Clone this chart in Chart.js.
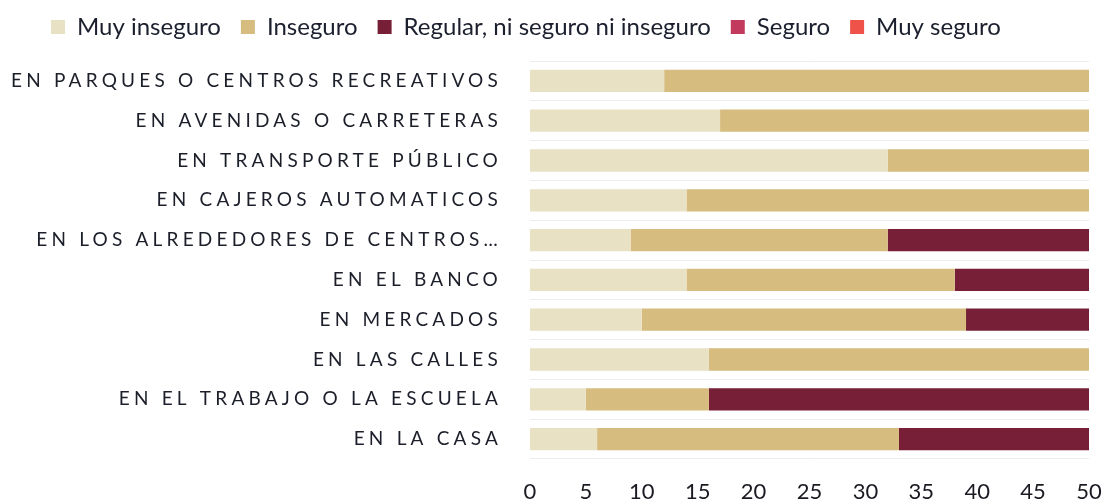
<!DOCTYPE html>
<html>
<head>
<meta charset="utf-8">
<script src="https://cdn.jsdelivr.net/npm/chart.js@4/dist/chart.umd.min.js"></script>
<style>
  html, body { margin: 0; padding: 0; background: #fff; }
  #wrap { width: 1106px; height: 503px; }
</style>
</head>
<body>
<div id="wrap"><canvas id="chart"></canvas></div>
<script>
// categories, top to bottom
const lugares = [
    "EN PARQUES O CENTROS RECREATIVOS",
    "EN AVENIDAS O CARRETERAS",
    "EN TRANSPORTE PÚBLICO",
    "EN CAJEROS AUTOMATICOS",
    "EN LOS ALREDEDORES DE CENTROS…",
    "EN EL BANCO",
    "EN MERCADOS",
    "EN LAS CALLES",
    "EN EL TRABAJO O LA ESCUELA",
    "EN LA CASA"
];

// series values
const muyInseguro = [12, 17, 32, 14, 9, 14, 10, 16, 5, 6];
const inseguro    = [38, 33, 18, 36, 23, 24, 29, 34, 11, 27];
const regular     = [0, 0, 0, 0, 18, 12, 11, 0, 34, 17];
const seguro      = [0, 0, 0, 0, 0, 0, 0, 0, 0, 0];
const muySeguro   = [0, 0, 0, 0, 0, 0, 0, 0, 0, 0];

const xMin = 0, xMax = 50, xStep = 5;

// legend tweaks + spaced-out capitals on the category labels
const tweaks = {
    id: "tweaks",
    beforeInit(chart) {
        // a bit more room under the legend
        const fit = chart.legend.fit;
        chart.legend.fit = function () {
            fit.call(this);
            this.height += 12;
        };
    },
    afterLayout(chart) {
        // legend starts a little right of the canvas edge
        chart.legend.left += 31;
        chart.legend.right += 31;
    },
    afterUpdate(chart) {
        const s = chart.scales.y;
        if (s && !s._spaced) {
            const orig = s.drawLabels.bind(s);
            s.drawLabels = function (area) {
                const ctx = this.ctx;
                ctx.save();
                ctx.letterSpacing = "4.2px";
                orig(area);
                ctx.restore();
            };
            s._spaced = true;
        }
    }
};

new Chart(document.getElementById("chart"), {
    type: "bar",
    data: {
        labels: lugares,
        datasets: [
            { label: "Muy inseguro", data: muyInseguro, backgroundColor: "#e8e1c3" },
            { label: "Inseguro", data: inseguro, backgroundColor: "#d6bc7f" },
            { label: "Regular, ni seguro ni inseguro", data: regular, backgroundColor: "#761f36" },
            { label: "Seguro", data: seguro, backgroundColor: "#c23a5e" },
            { label: "Muy seguro", data: muySeguro, backgroundColor: "#ee5248" }
        ]
    },
    options: {
        indexAxis: "y",
        responsive: true,
        maintainAspectRatio: false,
        animation: false,
        layout: { padding: { left: 0, right: 17, top: -5, bottom: 0 } },
        datasets: { bar: { categoryPercentage: 1, barPercentage: 0.56, borderWidth: 0 } },
        plugins: {
            legend: {
                position: "top",
                align: "start",
                labels: {
                    boxWidth: 14,
                    boxHeight: 14,
                    padding: 20,
                    color: "#1b1f2e",
                    font: { family: "Lato", size: 24 }
                }
            },
            tooltip: { enabled: false }
        },
        scales: {
            x: {
                stacked: true,
                min: xMin,
                max: xMax,
                afterFit(scale) {
                    scale.paddingRight = 0;
                    scale.height = 44;
                },
                ticks: {
                    stepSize: xStep,
                    padding: 20,
                    color: "#1a1a22",
                    font: { family: "Lato", size: 22 }
                },
                grid: { display: false, drawTicks: false },
                border: { display: false }
            },
            y: {
                stacked: true,
                afterFit(scale) {
                    scale.width = 530;
                    scale.paddingTop = 0;
                    scale.paddingBottom = 0;
                },
                ticks: {
                    padding: 28,
                    color: "#1c1f2a",
                    font: { family: "Lato", size: 19 }
                },
                grid: { color: "rgba(0,0,0,0.07)", drawTicks: false },
                border: { display: false }
            }
        }
    },
    plugins: [tweaks]
});
</script>
</body>
</html>
